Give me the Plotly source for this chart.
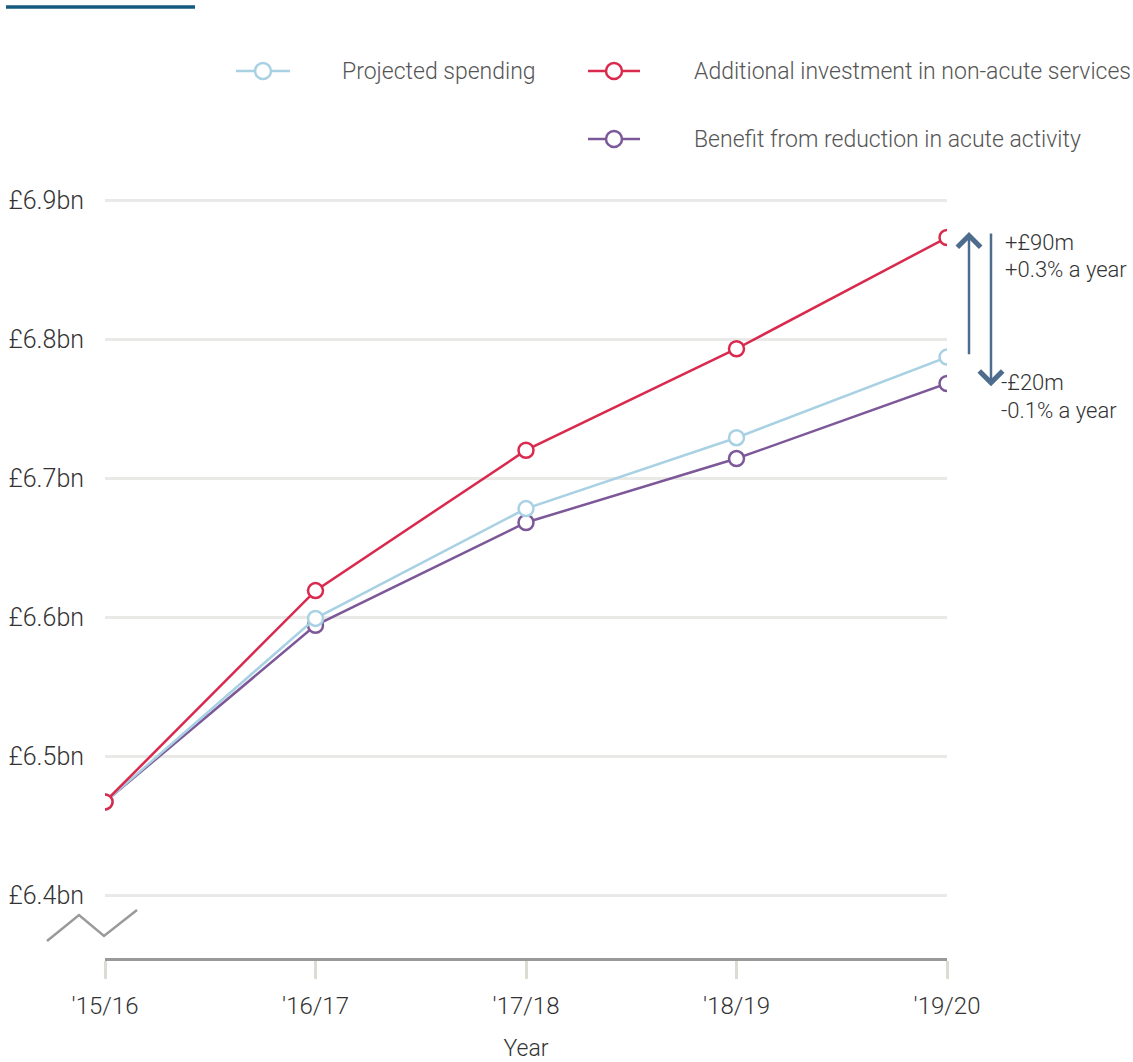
import plotly.graph_objects as go

# ---- data ----
years = ["'15/16", "'16/17", "'17/18", "'18/19", "'19/20"]
projected = [6.467, 6.599, 6.678, 6.729, 6.787]
additional = [6.467, 6.619, 6.720, 6.793, 6.873]
benefit = [6.467, 6.594, 6.668, 6.714, 6.768]
y_ticks = [6.4, 6.5, 6.6, 6.7, 6.8, 6.9]
y_tick_labels = ["£6.4bn", "£6.5bn", "£6.6bn", "£6.7bn", "£6.8bn", "£6.9bn"]
series_names = ["Projected spending", "Additional investment in non-acute services",
                "Benefit from reduction in acute activity"]
diff_labels = [("+£90m", "+0.3% a year"), ("-£20m", "-0.1% a year")]

# ---- styles ----
C_BLUE = "#a8d1e4"
C_RED = "#d92a4e"
C_PURPLE = "#7d5898"
C_ARROW = "#4e6c8e"
C_TEXT = "#333333"
FONT = "Roboto"

W, H = 1133, 1062
ML, MR, MT, MB = 105, 186, 180, 104
PW, PH = W - ML - MR, H - MT - MB


def px_x(p):
    return (p - ML) / PW


def px_y(p):
    return (H - MB - p) / PH


fig = go.Figure()
for name, vals, col in [(series_names[2], benefit, C_PURPLE),
                        (series_names[0], projected, C_BLUE),
                        (series_names[1], additional, C_RED)]:
    fig.add_trace(go.Scatter(
        x=years, y=vals, name=name, mode="lines+markers",
        line=dict(color=col, width=2.5),
        marker=dict(size=15, color="white", line=dict(color=col, width=2.5)),
        showlegend=False,
    ))

shapes = []
annotations = []

# top accent bar
shapes.append(dict(type="line", xref="paper", yref="paper",
                   x0=px_x(6), x1=px_x(195), y0=px_y(7), y1=px_y(7),
                   line=dict(color="#145a7e", width=3.5)))

# axis break zigzag
zz = [(47, 941), (79, 915), (104, 936), (137, 910)]
path = "M " + " L ".join(f"{px_x(a):.5f},{px_y(b):.5f}" for a, b in zz)
shapes.append(dict(type="path", xref="paper", yref="paper", path=path,
                   line=dict(color="#9a9a9a", width=2.5)))

# custom legend
legend_items = [
    (series_names[0], C_BLUE, 236, 290, 340, 71),
    (series_names[1], C_RED, 588, 640, 692, 71),
    (series_names[2], C_PURPLE, 588, 640, 692, 139),
]
for name, col, lx0, lx1, tx, ly in legend_items:
    shapes.append(dict(type="line", xref="paper", yref="paper",
                       x0=px_x(lx0), x1=px_x(lx1), y0=px_y(ly), y1=px_y(ly),
                       line=dict(color=col, width=2.5)))
    shapes.append(dict(type="circle", xref="paper", yref="paper",
                       xsizemode="pixel", ysizemode="pixel",
                       xanchor=px_x((lx0 + lx1) / 2), yanchor=px_y(ly),
                       x0=-8, x1=8, y0=-8, y1=8,
                       fillcolor="white", line=dict(color=col, width=2.5)))
    annotations.append(dict(xref="paper", yref="paper", x=px_x(tx), y=px_y(ly),
                            text=name, showarrow=False, xanchor="left", yanchor="middle",
                            font=dict(family=FONT, size=23, color="#555555", weight=300)))

# difference arrows
annotations.append(dict(xref="paper", yref="y", x=px_x(969), y=6.877,
                        axref="pixel", ayref="y", ax=0, ay=6.788,
                        showarrow=True, arrowhead=4, arrowsize=1.8, arrowwidth=2.5,
                        arrowcolor=C_ARROW, text=""))
annotations.append(dict(xref="paper", yref="y", x=px_x(991), y=6.766,
                        axref="pixel", ayref="y", ax=0, ay=6.877,
                        showarrow=True, arrowhead=4, arrowsize=1.8, arrowwidth=2.5,
                        arrowcolor=C_ARROW, text=""))
for (l1, l2), lx, y1, y2 in [(diff_labels[0], 1003, 243, 269), (diff_labels[1], 999, 382, 410)]:
    for txt, ty in [(l1, y1), (l2, y2)]:
        annotations.append(dict(xref="paper", yref="paper", x=px_x(lx), y=px_y(ty),
                                text=txt, showarrow=False, align="left",
                                xanchor="left", yanchor="middle",
                                font=dict(family=FONT, size=22, color=C_TEXT, weight=300)))

fig.update_layout(
    width=W, height=H,
    margin=dict(l=ML, r=MR, t=MT, b=MB, pad=0),
    paper_bgcolor="white", plot_bgcolor="white",
    font=dict(family=FONT, color=C_TEXT, weight=300),
    shapes=shapes, annotations=annotations,
    showlegend=False,
    xaxis=dict(
        type="category", range=[0, len(years) - 1],
        automargin=False,
        showgrid=False, zeroline=False,
        showline=True, linecolor="#999999", linewidth=3,
        ticks="outside", ticklen=18, tickwidth=3, tickcolor="#dcdcd3",
        tickfont=dict(family=FONT, size=24, color=C_TEXT, weight=300),
        ticklabelstandoff=6,
        title=dict(text="Year", font=dict(family=FONT, size=23, color=C_TEXT, weight=300),
                   standoff=22),
    ),
    yaxis=dict(
        range=[6.35468, 6.35468 + PH / 1390],
        automargin=False,
        tickvals=y_ticks, ticktext=y_tick_labels,
        showgrid=True, gridcolor="#e9e9e7", gridwidth=3,
        zeroline=False, showline=False, ticks="",
        tickfont=dict(family=FONT, size=25, color=C_TEXT, weight=300),
        ticklabelstandoff=20,
    ),
)

fig.write_html("out.html")
